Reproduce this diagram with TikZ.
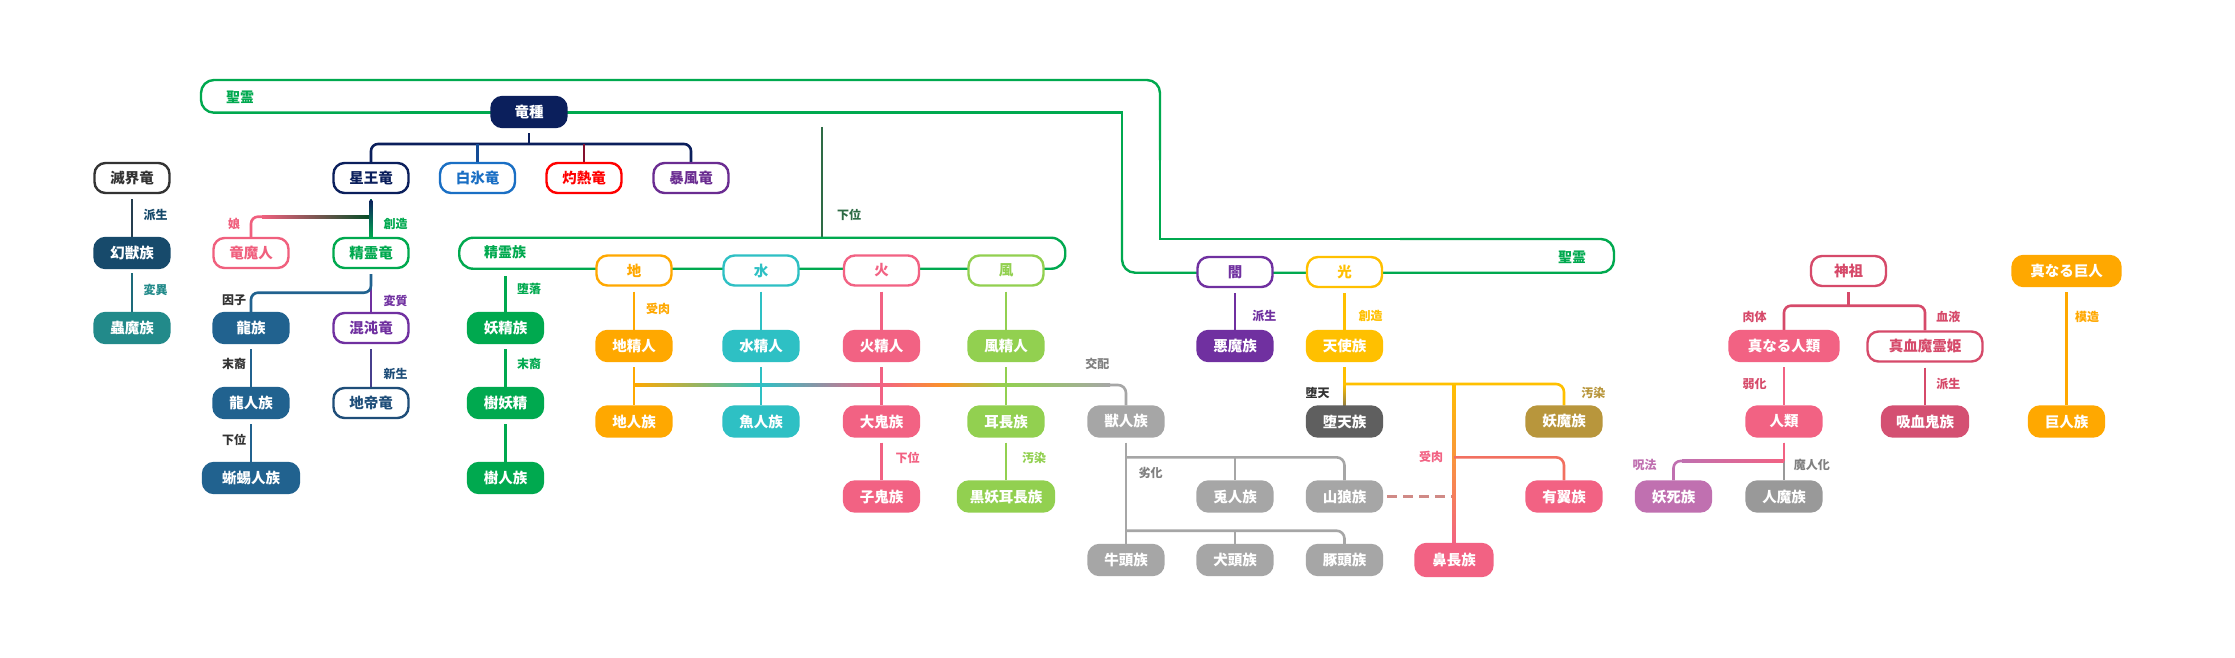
\documentclass[tikz,border=0pt]{standalone}
\usepackage{fontspec}
\setmainfont{Noto Sans CJK JP}
\usetikzlibrary{calc}
\pgfdeclarelayer{bg}
\pgfdeclarelayer{paper}
\pgfsetlayers{paper,bg,main}
\definecolor{cNavy}{HTML}{0B1F5C}
\definecolor{cIce}{HTML}{1A6FC4}
\definecolor{cRed}{HTML}{FF0000}
\definecolor{cStorm}{HTML}{6A2C91}
\definecolor{cMek}{HTML}{333333}
\definecolor{cGenju}{HTML}{174A6B}
\definecolor{cChuma}{HTML}{228A8A}
\definecolor{cPink}{HTML}{F0607E}
\definecolor{cGreen}{HTML}{00A94F}
\definecolor{cRyu}{HTML}{21628F}
\definecolor{cPurple}{HTML}{7030A0}
\definecolor{cChitei}{HTML}{1F4E79}
\definecolor{cOrange}{HTML}{FFA800}
\definecolor{cTeal}{HTML}{2EC0C4}
\definecolor{cFire}{HTML}{F26283}
\definecolor{cWind}{HTML}{92D050}
\definecolor{cGray}{HTML}{A6A6A6}
\definecolor{cGold}{HTML}{FFC000}
\definecolor{cDaten}{HTML}{5F5F5F}
\definecolor{cYoma}{HTML}{B8963C}
\definecolor{cCrim}{HTML}{D64A6A}
\definecolor{cVamp}{HTML}{D45072}
\definecolor{cYoshi}{HTML}{C070B0}
\definecolor{cJinma}{HTML}{999999}
\definecolor{cSalmon}{HTML}{F27060}
\definecolor{cDkGreen}{HTML}{2E6B45}
\definecolor{cLabGray}{HTML}{808080}
\definecolor{cDash}{HTML}{D08A86}
\definecolor{cDark}{HTML}{333333}
\begin{document}
\begin{tikzpicture}[x=1pt,y=-1pt,
  box/.style={rounded corners=11pt, minimum width=75pt, minimum height=30pt, line width=2.4pt, inner sep=0pt, font=\bfseries\fontsize{14.5}{14.5}\selectfont},
  ob/.style={box, draw=#1, fill=white, text=#1},
  fb/.style={box, draw=#1, fill=#1, text=white},
  lab/.style={font=\bfseries\fontsize{12}{12}\selectfont, inner sep=0pt},
  blab/.style={font=\bfseries\fontsize{14}{14}\selectfont, inner sep=0pt, text=cGreen},
  ln/.style={line width=2.6pt},
  sband/.style={line width=2.4pt, draw=cGreen},
]
\begin{pgfonlayer}{paper}
\fill[white] (0,0) rectangle (2235,658);
\end{pgfonlayer}
\useasboundingbox (0,0) rectangle (2235,658);

% branch levels
\coordinate (busY) at (0,144);
\coordinate (musumeY) at (0,216.7);
\coordinate (inshiY) at (0,292.7);
\coordinate (kohaiY) at (0,385);
\coordinate (g1) at (0,457.3);
\coordinate (g2) at (0,530.7);
\coordinate (t1) at (0,384);
\coordinate (t2) at (0,457.3);
\coordinate (shinsoY) at (0,305.7);
\coordinate (jinruiY) at (0,461);
\coordinate (kaiTop) at (822,127);

% 聖霊 band
\draw[sband, rounded corners=13pt] (1122,200) -- (1122,272.7) -- (1614,272.7) -- (1614,239) -- (1400,239);
\draw[sband] (1400,239) -- (1160,239) -- (1160,160);
\draw[sband, rounded corners=13pt] (1160,160) -- (1160,80) -- (201,80) -- (201,112.7) -- (400,112.7);
\draw[sband] (400,112.7) -- (1122,112.7) -- (1122,200);

% 精霊族 band
\node[draw=cGreen, line width=2.4pt, rounded corners=14pt, minimum width=606pt, minimum height=31pt, inner sep=0pt] (seireizoku) at (762.25,253.25) {};

% nodes: dragons
\node[fb=cNavy] (ryushu) at (529,112) {竜種};
\node[ob=cNavy] (seio) at (371,178) {星王竜};
\node[ob=cIce] (hakuhyo) at (477.5,178) {白氷竜};
\node[ob=cRed] (shakunetsu) at (584,178) {灼熱竜};
\node[ob=cStorm] (bofu) at (691,178) {暴風竜};
\node[ob=cMek] (mekkai) at (132,178) {滅界竜};
\node[fb=cGenju] (genju) at (132,253) {幻獣族};
\node[fb=cChuma] (chuma) at (132,328) {蟲魔族};
\node[ob=cPink] (ryumajin) at (251,253) {竜魔人};
\node[ob=cGreen] (seireiryu) at (371,253) {精霊竜};
\node[fb=cRyu] (ryuzoku) at (251,328) {龍族};
\node[ob=cPurple] (konton) at (371,328) {混沌竜};
\node[fb=cRyu] (ryujin) at (251,403) {龍人族};
\node[ob=cChitei] (chitei) at (371,403) {地帝竜};
\node[fb=cRyu, minimum width=96pt] (sekieki) at (251,478) {蜥蜴人族};
% spirits
\node[fb=cGreen] (yosei) at (505.5,328) {妖精族};
\node[fb=cGreen] (juyosei) at (505.5,403) {樹妖精};
\node[fb=cGreen] (jujin) at (505.5,478) {樹人族};
\node[ob=cOrange] (chi) at (634,270.5) {地};
\node[ob=cTeal] (mizu) at (761,270.5) {水};
\node[ob=cFire] (hi) at (881.5,270.5) {火};
\node[ob=cWind] (kaze) at (1006,270.5) {風};
\node[fb=cOrange] (chiseijin) at (634,346) {地精人};
\node[fb=cTeal] (mizuseijin) at (761,346) {水精人};
\node[fb=cFire] (hiseijin) at (881.5,346) {火精人};
\node[fb=cWind] (kazeseijin) at (1006,346) {風精人};
\node[fb=cOrange] (chijin) at (634,421.5) {地人族};
\node[fb=cTeal] (gyojin) at (761,421.5) {魚人族};
\node[fb=cFire] (ooni) at (881.5,421.5) {大鬼族};
\node[fb=cWind] (mimi) at (1006,421.5) {耳長族};
\node[fb=cGray] (juujin) at (1126,421.5) {獣人族};
\node[fb=cFire] (koni) at (881.5,496.5) {子鬼族};
\node[fb=cWind, minimum width=96pt] (kokuyo) at (1006,496.5) {黒妖耳長族};
\node[fb=cGray] (tojin) at (1235,496.5) {兎人族};
\node[fb=cGray] (sanro) at (1344.5,496.5) {山狼族};
\node[fb=cGray] (gozu) at (1126,560) {牛頭族};
\node[fb=cGray] (kenzu) at (1235,560) {犬頭族};
\node[fb=cGray] (tonzu) at (1344.5,560) {豚頭族};
\node[fb=cFire, minimum width=77pt, minimum height=32pt] (bicho) at (1454,560) {鼻長族};
% light & dark
\node[ob=cPurple] (yami) at (1235,272) {闇};
\node[ob=cGold] (hikari) at (1344.5,272) {光};
\node[fb=cPurple] (akuma) at (1235,346) {悪魔族};
\node[fb=cGold] (tenshi) at (1344.5,346) {天使族};
\node[fb=cDaten] (daten) at (1344.5,421.5) {堕天族};
\node[fb=cYoma] (yoma) at (1564,421.5) {妖魔族};
\node[fb=cFire] (yuyoku) at (1564,496.5) {有翼族};
% humans
\node[ob=cCrim] (shinso) at (1848.5,271) {神祖};
\node[fb=cFire, minimum width=109pt] (shinjin) at (1784,346) {真なる人類};
\node[ob=cCrim, minimum width=115pt] (shinketsu) at (1925,346.5) {真血魔霊姫};
\node[fb=cFire] (jinrui) at (1784,421.5) {人類};
\node[fb=cVamp, minimum width=86pt] (kyuketsu) at (1925,421.5) {吸血鬼族};
\node[fb=cYoshi] (yoshi) at (1673.5,496.5) {妖死族};
\node[fb=cJinma] (jinma) at (1784,496.5) {人魔族};
\node[fb=cOrange, minimum width=108pt] (kyojinS) at (2066.5,271) {真なる巨人};
\node[fb=cOrange] (kyojin) at (2066.5,421.5) {巨人族};

\begin{pgfonlayer}{bg}
% 竜種
\draw[ln,cNavy,shorten <=5pt] (ryushu.south) -- (ryushu.south |- busY);
\draw[ln,cNavy,rounded corners=7pt] (seio.north) |- (bofu.north |- busY) -- (bofu.north);
\draw[ln,cIce!55!cNavy] (hakuhyo.north |- busY) -- (hakuhyo.north);
\draw[ln,cRed!50!cNavy] (shakunetsu.north |- busY) -- (shakunetsu.north);
% 滅界竜
\draw[ln,cMek!50!cGenju,shorten <=5pt] (mekkai) -- (genju);
\draw[ln,cGenju!50!cChuma,shorten <=4pt] (genju) -- (chuma);
% 星王竜
\draw[ln,cPink,rounded corners=7pt] (ryumajin.north) |- (seio.south |- musumeY);
\shade[left color=cPink, right color=cGreen!45!black] (262,215.4) rectangle (372,218);
\draw[ln,cNavy!40!cGreen,shorten <=5pt] (seio) -- (seireiryu);
\shade[top color=cNavy, bottom color=cGreen] (369.7,200) rectangle (372.3,237);
% 精霊竜
\draw[ln,cPurple,shorten <=5pt] (seireiryu) -- (konton);
\draw[ln,cRyu,rounded corners=7pt,shorten <=5pt] (seireiryu.south) -- (seireiryu.south |- inshiY) -| (ryuzoku.north);
\draw[ln,cRyu,shorten <=5pt] (ryuzoku) -- (ryujin);
\draw[ln,cRyu,shorten <=5pt] (ryujin) -- (sekieki);
\draw[ln,cPurple!50!cChitei,shorten <=5pt] (konton) -- (chitei);
% 精霊族
\draw[ln,cGreen,shorten <=6pt] (yosei.north |- seireizoku.south) -- (yosei.north);
\draw[ln,cGreen,shorten <=5pt] (yosei) -- (juyosei);
\draw[ln,cGreen,shorten <=5pt] (juyosei) -- (jujin);
\draw[ln,cDkGreen] (kaiTop) -- (kaiTop |- seireizoku.north);
% 交配
\draw[ln,cGray,rounded corners=8pt] (chijin.north |- kohaiY) -| (juujin.north);
\shade[left color=cOrange, right color=cTeal] (634,383.7) rectangle (761,386.3);
\shade[left color=cTeal, right color=cFire] (761,383.7) rectangle (881.5,386.3);
\shade[left color=cFire, right color=cOrange!70!cFire] (881.5,383.7) rectangle (944,386.3);
\shade[left color=cOrange!70!cFire, right color=cWind] (944,383.7) rectangle (1006,386.3);
\shade[left color=cWind, right color=cGray] (1006,383.7) rectangle (1110,386.3);
% elements
\draw[ln,cOrange,shorten <=5pt] (chi) -- (chiseijin);
\draw[ln,cTeal,shorten <=5pt] (mizu) -- (mizuseijin);
\draw[ln,cFire,shorten <=5pt] (hi) -- (hiseijin);
\draw[ln,cWind,shorten <=5pt] (kaze) -- (kazeseijin);
\draw[ln,cOrange,shorten <=5pt] (chiseijin) -- (chijin);
\draw[ln,cTeal,shorten <=5pt] (mizuseijin) -- (gyojin);
\draw[ln,cFire,shorten <=5pt] (hiseijin) -- (ooni);
\draw[ln,cWind,shorten <=5pt] (kazeseijin) -- (mimi);
\draw[ln,cFire,shorten <=5pt] (ooni) -- (koni);
\draw[ln,cWind,shorten <=5pt] (mimi) -- (kokuyo);
% 獣人族
\draw[ln,cGray,shorten <=5pt] (juujin) -- (gozu);
\draw[ln,cGray,rounded corners=8pt] (juujin.south |- g1) -| (sanro.north);
\draw[ln,cGray] (tojin.north |- g1) -- (tojin.north);
\draw[ln,cGray,rounded corners=8pt] (juujin.south |- g2) -| (tonzu.north);
\draw[ln,cGray] (kenzu.north |- g2) -- (kenzu.north);
\draw[ln,cDash,dash pattern=on 10pt off 6pt,shorten <=4pt] (sanro.east) -- (sanro.east -| bicho.north);
% 闇 光
\draw[ln,cPurple,shorten <=5pt] (yami) -- (akuma);
\draw[ln,cGold,shorten <=5pt] (hikari) -- (tenshi);
\draw[ln,cGold,shorten <=5pt] (tenshi) -- (daten);
\shade[top color=cGold, bottom color=cDaten!70!cGold] (1343.2,384) rectangle (1345.8,406);
\draw[ln,cGold,rounded corners=8pt] (tenshi.south |- t1) -| (yoma.north);
\draw[ln,cGold!50!cFire] (bicho.north |- t1) -- (bicho.north);
\shade[top color=cGold, bottom color=cFire] (1452.7,384) rectangle (1455.3,544);
\draw[ln,cSalmon,rounded corners=8pt] (bicho.north |- t2) -| (yuyoku.north);
% 神祖
\draw[ln,cCrim,shorten <=5pt] (shinso.south) -- (shinso.south |- shinsoY);
\draw[ln,cCrim,rounded corners=7pt] (shinjin.north) |- (shinketsu.north |- shinsoY) -- (shinketsu.north);
\draw[ln,cFire,shorten <=5pt] (shinjin) -- (jinrui);
\draw[ln,cCrim,shorten <=5pt] (shinketsu) -- (kyuketsu);
\draw[ln,cJinma,shorten <=5pt] (jinrui) -- (jinma);
\draw[ln,cFire,shorten <=5pt] (jinrui.south) -- (jinrui.south |- jinruiY);
\draw[ln,cYoshi,rounded corners=7pt] (yoshi.north) |- (jinrui.south |- jinruiY);
\shade[left color=cYoshi, right color=cFire] (1682,459.7) rectangle (1784,462.3);
\draw[ln,cOrange,shorten <=5pt] (kyojinS) -- (kyojin);
\end{pgfonlayer}

% labels
\node[blab] at (240,97) {聖霊};
\node[blab] at (1572,257) {聖霊};
\node[blab] at (505,252) {精霊族};
\node[lab,text=cDkGreen] at (849,215) {下位};
\node[lab,text=cGenju] at (155.5,215) {派生};
\node[lab,text=cChuma] at (155.5,290) {変異};
\node[lab,text=cPink] at (234,224.3) {娘};
\node[lab,text=cGreen] at (395.7,224.3) {創造};
\node[lab,text=cDark] at (234,300.7) {因子};
\node[lab,text=cPurple] at (395.7,300.7) {変質};
\node[lab,text=cDark] at (234,364) {末裔};
\node[lab,text=cChitei] at (395.7,374) {新生};
\node[lab,text=cDark] at (234,440) {下位};
\node[lab,text=cGreen] at (529,289.3) {堕落};
\node[lab,text=cGreen] at (529,364) {末裔};
\node[lab,text=cOrange] at (658,309.3) {受肉};
\node[lab,text=cFire] at (907.7,457.7) {下位};
\node[lab,text=cWind] at (1034,458.3) {汚染};
\node[lab,text=cLabGray] at (1097.3,364) {交配};
\node[lab,text=cLabGray] at (1150.5,472.7) {劣化};
\node[lab,text=cPurple] at (1264.3,316) {派生};
\node[lab,text=cGold] at (1370.7,316) {創造};
\node[lab,text=cDark] at (1317.7,393.3) {堕天};
\node[lab,text=cYoma] at (1593.3,393.3) {汚染};
\node[lab,text=cFire] at (1431,457.3) {受肉};
\node[lab,text=cCrim] at (1754.7,316.7) {肉体};
\node[lab,text=cCrim] at (1948.3,316.7) {血液};
\node[lab,text=cCrim] at (1754.7,384) {弱化};
\node[lab,text=cCrim] at (1948.3,384) {派生};
\node[lab,text=cOrange] at (2087.2,316.7) {模造};
\node[lab,text=cYoshi] at (1644.6,465) {呪法};
\node[lab,text=cLabGray] at (1811.8,465) {魔人化};
\end{tikzpicture}
\end{document}
